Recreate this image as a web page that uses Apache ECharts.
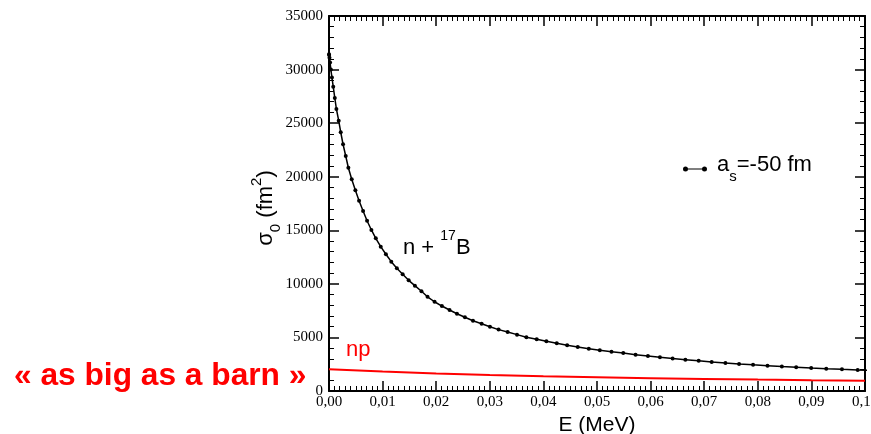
<!DOCTYPE html>
<html><head><meta charset="utf-8">
<script src="https://cdn.jsdelivr.net/npm/echarts@6/dist/echarts.min.js"></script>
<style>html,body{margin:0;padding:0;background:#fff}#c{width:871px;height:434px}</style>
</head><body><div id="c"></div>
<script>
// n + 17B cross section (a_s = -50 fm)
const nB17Energy = [0, 0.00002, 0.00009, 0.0002, 0.00035, 0.00055, 0.00079, 0.00108, 0.00138, 0.00181,
  0.00219, 0.00262, 0.00312, 0.00361, 0.00424, 0.00492, 0.00561, 0.00636, 0.0071, 0.00791,
  0.00873, 0.00965, 0.01062, 0.01162, 0.01266, 0.01374, 0.01486, 0.01602, 0.01725, 0.01838,
  0.01969, 0.02106, 0.02249, 0.02387, 0.02536, 0.02686, 0.02847, 0.03003, 0.03164, 0.03333,
  0.03508, 0.03682, 0.03875, 0.04056, 0.04249, 0.04443, 0.04641, 0.04847, 0.05052, 0.05271,
  0.0549, 0.0572, 0.0595, 0.06174, 0.06411, 0.06649, 0.06897, 0.0714, 0.07396, 0.07651,
  0.07912, 0.08181, 0.08449, 0.08716, 0.08996, 0.09277, 0.0957, 0.09864, 0.1016];
const nB17Sigma = [31420, 31350, 31100, 30650, 30000, 29250, 28400, 27350, 26320, 25230,
  24150, 23030, 21930, 20840, 19760, 18730, 17760, 16800, 15890, 15030,
  14250, 13470, 12760, 12070, 11450, 10890, 10330, 9830, 9310, 8790,
  8330, 7930, 7560, 7210, 6880, 6560, 6280, 6000, 5730, 5500,
  5260, 5020, 4820, 4640, 4450, 4270, 4110, 3950, 3800, 3660,
  3540, 3390, 3270, 3140, 3025, 2920, 2815, 2715, 2620, 2530,
  2445, 2365, 2290, 2220, 2150, 2085, 2020, 1960, 1905];
// np cross section
const npEnergy = [0, 0.01, 0.02, 0.03, 0.04, 0.05, 0.06, 0.07, 0.08, 0.09, 0.1];
const npSigma = [2030, 1810, 1630, 1488, 1375, 1280, 1195, 1125, 1062, 1007, 960];
// tick labels
const xTickLabels = ['0,00','0,01','0,02','0,03','0,04','0,05','0,06','0,07','0,08','0,09','0,10'];
const yTickLabels = ['0','5000','10000','15000','20000','25000','30000','35000'];

const SERIF = '"Liberation Serif", "DejaVu Serif", serif';
const SANS = '"Liberation Sans", Arial, sans-serif';

const chart = echarts.init(document.getElementById('c'), null, {renderer: 'canvas'});

const axisLine = {onZero: false, lineStyle: {color: '#000', width: 2}};
const tick = {inside: true, length: 10, lineStyle: {color: '#000', width: 1.5}};
const minor = (n) => ({show: true, splitNumber: n, length: 5, lineStyle: {color: '#000', width: 1}});

const xBase = {type: 'value', min: 0, max: 0.1, interval: 0.01, axisLine, axisTick: tick,
  minorTick: minor(10), splitLine: {show: false}, minorSplitLine: {show: false}};
const yBase = {type: 'value', min: 0, max: 35000, interval: 5000, axisLine, axisTick: tick,
  minorTick: minor(5), splitLine: {show: false}, minorSplitLine: {show: false}};

chart.setOption({
  animation: false,
  backgroundColor: '#fff',
  grid: {left: 329, right: 6, top: 16, bottom: 43, containLabel: false, outerBoundsMode: 'none'},
  xAxis: [
    Object.assign({}, xBase, {position: 'bottom',
      axisLabel: {margin: 4, color: '#000', fontFamily: SERIF, fontSize: 15, hideOverlap: false,
        formatter: v => xTickLabels[Math.round(v / 0.01)]},
      name: 'E (MeV)', nameLocation: 'middle', nameGap: 20,
      nameTextStyle: {fontFamily: SANS, fontSize: 21, color: '#000'}}),
    Object.assign({}, xBase, {position: 'top', axisLabel: {show: false}})
  ],
  yAxis: [
    Object.assign({}, yBase, {position: 'left',
      axisLabel: {margin: 6, color: '#000', fontFamily: SERIF, fontSize: 15,
        formatter: v => yTickLabels[Math.round(v / 5000)]}}),
    Object.assign({}, yBase, {position: 'right', axisLabel: {show: false}})
  ],
  legend: {
    show: true, left: 683, top: 154, padding: 0, selectedMode: false,
    itemWidth: 24, itemHeight: 5,
    data: [{name: 'n17B',
      icon: 'path://M2.5,1.9 L21.5,1.9 L21.5,3.1 L2.5,3.1 Z M0,2.5 A2.5,2.5 0 1 1 5,2.5 A2.5,2.5 0 1 1 0,2.5 Z M19,2.5 A2.5,2.5 0 1 1 24,2.5 A2.5,2.5 0 1 1 19,2.5 Z'}],
    formatter: () => '{g| }{a|a}{s|s}{a|=-50 fm}',
    textStyle: {color: '#000', fontFamily: SANS, rich: {
      g: {width: 5},
      a: {fontSize: 22, fontFamily: SANS, color: '#000', lineHeight: 30, verticalAlign: 'top'},
      s: {fontSize: 15, fontFamily: SANS, color: '#000', verticalAlign: 'bottom'}
    }}
  },
  series: [
    {name: 'n17B', type: 'line', xAxisIndex: 0, yAxisIndex: 0,
      data: nB17Energy.map((e, i) => [e, nB17Sigma[i]]),
      symbol: 'circle', symbolSize: 4, showSymbol: true, showAllSymbol: true,
      lineStyle: {color: '#000', width: 1.5}, itemStyle: {color: '#000'}, z: 3},
    {name: 'np', type: 'line', xAxisIndex: 0, yAxisIndex: 0,
      data: npEnergy.map((e, i) => [e, npSigma[i]]),
      symbol: 'none', smooth: false,
      lineStyle: {color: '#ff0000', width: 2}, itemStyle: {color: '#ff0000'}, z: 2}
  ],
  graphic: [
    {type: 'text', x: 266, y: 208, rotation: Math.PI / 2, silent: true,
      style: {text: '{b|σ}{s|0}{b| (fm}{p|2}{b|)}', fill: '#000', align: 'center', verticalAlign: 'middle',
        rich: {
          b: {fontSize: 22, fontFamily: SANS, fill: '#000', lineHeight: 34},
          s: {fontSize: 15, fontFamily: SANS, fill: '#000', verticalAlign: 'bottom'},
          p: {fontSize: 15, fontFamily: SANS, fill: '#000', verticalAlign: 'top'}
        }}},
    {type: 'text', x: 403, y: 244, silent: true,
      style: {text: '{a|n + }{p|17}{a|B}', fill: '#000', align: 'left', verticalAlign: 'middle',
        rich: {
          a: {fontSize: 22, fontFamily: SANS, fill: '#000', lineHeight: 30, verticalAlign: 'bottom'},
          p: {fontSize: 14, fontFamily: SANS, fill: '#000', verticalAlign: 'top'}
        }}},
    {type: 'text', x: 346, y: 350, silent: true,
      style: {text: 'np', fill: '#ff0000', fontSize: 22, fontFamily: SANS, align: 'left', verticalAlign: 'middle'}},
    {type: 'text', x: 14, y: 376, silent: true,
      style: {text: '« as big as a barn »', fill: '#ff0000', fontSize: 31.7, fontWeight: 'bold', fontFamily: SANS,
        align: 'left', verticalAlign: 'middle'}}
  ]
});
</script>
</body></html>
